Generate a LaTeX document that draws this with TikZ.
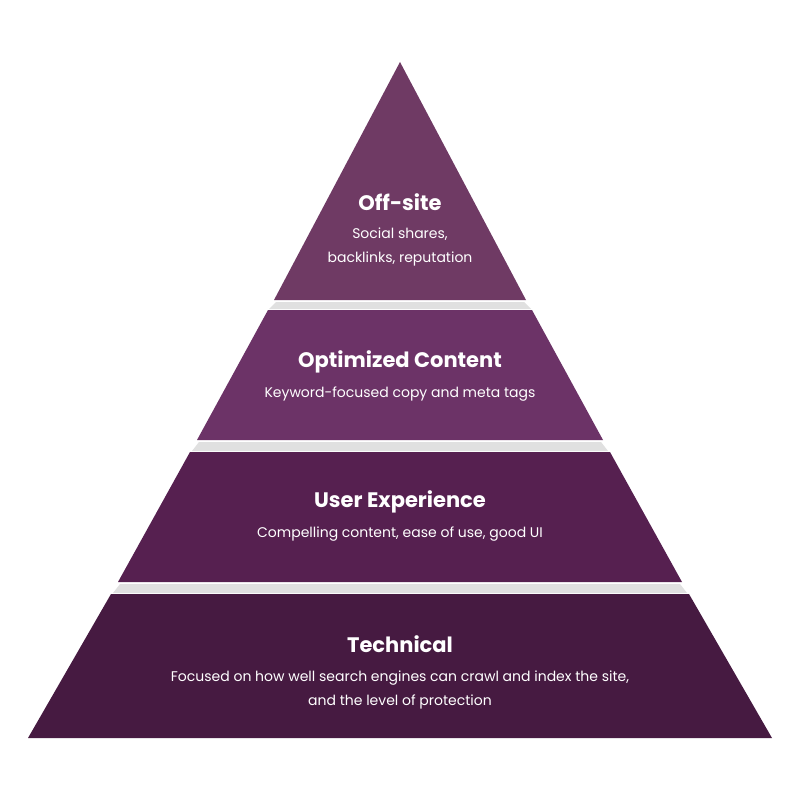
\documentclass[tikz,border=0pt]{standalone}
\usepackage{fontspec}
\setmainfont{Poppins}
\definecolor{cA}{RGB}{111,58,100}
\definecolor{cB}{RGB}{108,51,103}
\definecolor{cC}{RGB}{86,32,80}
\definecolor{cD}{RGB}{70,26,65}
\begin{document}
\begin{tikzpicture}[x=1pt,y=-1pt,
  tier/.style={draw=none},
  ttl/.style={text=white,font=\fontsize{21}{24}\selectfont\bfseries},
  sub/.style={text=white,font=\fontsize{14}{24}\selectfont,align=center}]
\useasboundingbox[fill=white] (0,0) rectangle (800,800);
\fill[black!12] (276,302) -- (524,302) -- (531,309) -- (269,309) -- cycle;
\fill[black!12] (199,442) -- (601,442) -- (608,451) -- (192,451) -- cycle;
\fill[black!12] (120,584) -- (680,584) -- (687,593) -- (113,593) -- cycle;
\fill[tier,fill=cA] (400,62) -- (526,300) -- (274,300) -- cycle;
\fill[tier,fill=cB] (268,310) -- (532,310) -- (603,440) -- (197,440) -- cycle;
\fill[tier,fill=cC] (190,452) -- (610,452) -- (682,582) -- (118,582) -- cycle;
\fill[tier,fill=cD] (111,594) -- (689,594) -- (772,738) -- (28,738) -- cycle;
\node[ttl] (t1) at (400,202) {Off-site};
\node[sub] (s1) at (400,247) {Social shares,\\backlinks, reputation};
\node[ttl] (t2) at (400,362) {Optimized Content};
\node[sub] (s2) at (400,394) {Keyword-focused copy and meta tags};
\node[ttl] (t3) at (400,502) {User Experience};
\node[sub] (s3) at (400,534) {Compelling content, ease of use, good UI};
\node[ttl] (t4) at (400,644) {Technical};
\node[sub] (s4) at (400,690) {Focused on how well search engines can crawl and index the site,\\and the level of protection};
\end{tikzpicture}
\end{document}
